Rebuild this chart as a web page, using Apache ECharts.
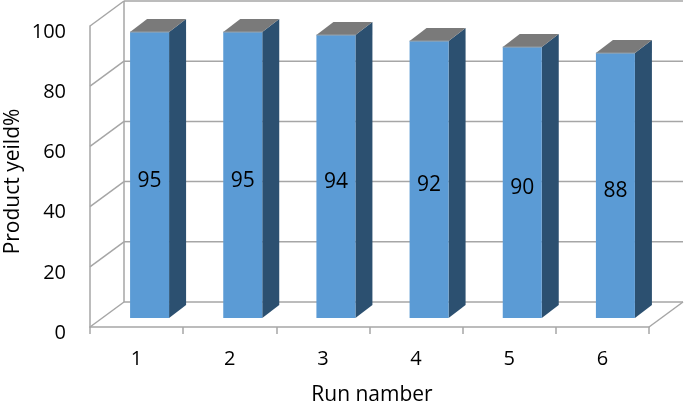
<!DOCTYPE html>
<html><head><meta charset="utf-8">
<script src="https://cdn.jsdelivr.net/npm/echarts@6/dist/echarts.min.js"></script>
<style>html,body{margin:0;padding:0;background:#fff}#c{width:685px;height:408px}</style>
</head><body><div id="c"></div>
<script>
const categories = ['1','2','3','4','5','6'];
const yieldValues = [95,95,94,92,90,88];
const yTicks = [0,20,40,60,80,100];
const xName = 'Run namber';
const yName = 'Product yeild%';

const FONT = '"Open Sans"';
const WALL = '#a6a6a6';
const DX = 34, DY = -25;           // wall depth
const BAR_W = 39, BAR_SHIFT = 13, BAR_LIFT = 9, SIDE_X = 17, SIDE_Y = -13; // bar geometry

const chart = echarts.init(document.getElementById('c'), null, {renderer:'canvas'});
const lineStyle = {stroke:WALL, lineWidth:1.5, fill:null};

function renderWall(params, api){
  const v = api.value(0);
  const cs = params.coordSys;
  const y = api.coord([0, v])[1];
  const L = cs.x, R = cs.x + cs.width;
  const children = [
    {type:'line', shape:{x1:L,y1:y,x2:L+DX,y2:y+DY}, style:lineStyle},
    {type:'line', shape:{x1:L+DX,y1:y+DY,x2:R+DX,y2:y+DY}, style:lineStyle}
  ];
  if (v === 0) {
    children.push({type:'line', shape:{x1:R,y1:y,x2:R+DX,y2:y+DY}, style:lineStyle});
    children.push({type:'line', shape:{x1:L+DX,y1:y+DY,x2:L+DX,y2:cs.y+DY}, style:lineStyle});
  }
  return {type:'group', children};
}

function renderBar(params, api){
  const top = api.coord([api.value(0), api.value(1)]);
  const base = api.coord([api.value(0), 0]);
  const x0 = top[0] + BAR_SHIFT - BAR_W/2, x1 = x0 + BAR_W;
  const yT = top[1] - BAR_LIFT, yB = base[1] - BAR_LIFT;
  return {type:'group', children:[
    {type:'polygon', shape:{points:[[x1,yT],[x1+SIDE_X,yT+SIDE_Y],[x1+SIDE_X,yB+SIDE_Y],[x1,yB]]}, style:{fill:'#2c5070'}},
    {type:'polygon', shape:{points:[[x0,yT],[x0+SIDE_X,yT+SIDE_Y],[x1+SIDE_X,yT+SIDE_Y],[x1,yT]]}, style:{fill:'#7a7a7a'}},
    {type:'rect', shape:{x:x0,y:yT,width:BAR_W,height:yB-yT}, style:{fill:'#5b9bd5'}},
    {type:'line', shape:{x1:x0,y1:yT,x2:x1,y2:yT}, style:{stroke:'#9aa5ae',lineWidth:1}},
    {type:'text', x:x0+BAR_W/2, y:(yT+yB)/2+5.5,
      style:{text:String(api.value(1)), fill:'#000', font:'21px '+FONT, align:'center', verticalAlign:'middle'}}
  ]};
}

chart.setOption({
  animation:false,
  backgroundColor:'#fff',
  grid:{left:90,right:36,top:26,bottom:81,outerBoundsMode:'none',containLabel:false},
  xAxis:{
    type:'category', data:categories, boundaryGap:true,
    name:xName, nameLocation:'middle', nameGap:58, nameMoveOverlap:false,
    nameTextStyle:{color:'#000',fontFamily:FONT,fontSize:21,padding:[0,0,0,5]},
    axisLine:{show:true,onZero:false,lineStyle:{color:WALL,width:1.5}},
    axisTick:{show:true,alignWithLabel:false,length:7,lineStyle:{color:WALL,width:1.5}},
    axisLabel:{color:'#000',fontFamily:FONT,fontSize:20,margin:22},
    splitLine:{show:false}
  },
  yAxis:{
    type:'value', min:0, max:100, interval:20,
    name:yName, nameLocation:'middle', nameGap:66, nameMoveOverlap:false,
    nameTextStyle:{color:'#000',fontFamily:FONT,fontSize:21,padding:[0,10,0,0]},
    axisLine:{show:true,lineStyle:{color:WALL,width:1.5}},
    axisTick:{show:false},
    axisLabel:{color:'#000',fontFamily:FONT,fontSize:20,margin:24,verticalAlign:'top',lineHeight:12},
    splitLine:{show:false}
  },
  series:[
    {type:'custom', data:yTicks.map(v=>[v]), renderItem:renderWall, encode:{y:0}, silent:true, clip:false, z:1},
    {type:'custom', data:categories.map((c,i)=>[i,yieldValues[i]]), renderItem:renderBar, encode:{x:0,y:1}, silent:true, clip:false, z:2}
  ]
});
</script></body></html>
